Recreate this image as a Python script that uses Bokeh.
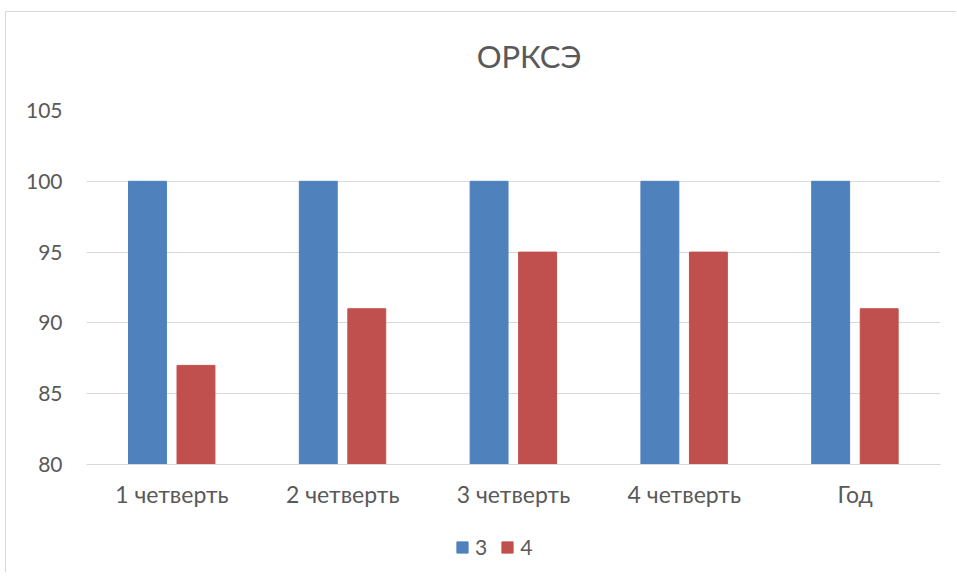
from bokeh.plotting import figure
from bokeh.models import FactorRange, Legend, LegendItem, Label, ColumnDataSource
from bokeh.layouts import column
from bokeh.transform import dodge
from bokeh.embed import file_html
from bokeh.resources import INLINE

categories = ["1 четверть", "2 четверть", "3 четверть", "4 четверть", "Год"]
series_3 = [100, 100, 100, 100, 100]
series_4 = [87, 91, 95, 95, 91]
series_names = ["3", "4"]
series_colors = ["#4F81BD", "#C0504D"]
y_ticks = [80, 85, 90, 95, 100, 105]
title_text = "ОРКСЭ"

FONT = "Lato"
TXT = "#595959"
W = 950

# title strip (pixel-based ranges)
tf = figure(width=W, height=60, x_range=(0, W), y_range=(0, 60), output_backend="svg",
            toolbar_location=None, min_border=0, x_axis_type=None, y_axis_type=None)
tf.outline_line_color = None
tf.grid.visible = False
tf.add_layout(Label(x=434, y=17, text=title_text, text_font=FONT, text_font_size="31px",
                    text_color=TXT, text_baseline="middle", text_align="left"))

src = ColumnDataSource(dict(cat=categories, s3=series_3, s4=series_4))

p = figure(width=W, height=438, x_range=FactorRange(*categories, range_padding=0),
           y_range=(80, 105), output_backend="svg", toolbar_location=None,
           min_border_left=80, min_border_right=16, min_border_bottom=45, min_border_top=38)

p.vbar(x=dodge("cat", -0.143, range=p.x_range), top="s3", bottom=80, width=0.222,
       source=src, color=series_colors[0])
p.vbar(x=dodge("cat", 0.141, range=p.x_range), top="s4", bottom=80, width=0.222,
       source=src, color=series_colors[1])

p.outline_line_color = None
p.xgrid.grid_line_color = None
p.ygrid.grid_line_color = "#D9D9D9"
p.ygrid.grid_line_width = 1
p.yaxis.ticker = y_ticks
p.yaxis.axis_line_color = None
p.yaxis.major_tick_line_color = None
p.yaxis.minor_tick_line_color = None
p.yaxis.major_label_standoff = 18
p.xaxis.axis_line_color = "#D9D9D9"
p.xaxis.major_tick_line_color = None
p.xaxis.minor_tick_line_color = None
p.xaxis.major_label_standoff = 9
p.yaxis.major_label_text_font_size = "21px"
p.xaxis.major_label_text_font_size = "23px"
for ax in (p.xaxis, p.yaxis):
    ax.major_label_text_font = FONT
    ax.major_label_text_color = TXT

# legend strip below the chart
lf = figure(width=W, height=62, x_range=(0, 1), y_range=(0, 1), output_backend="svg",
            toolbar_location=None, min_border=0, x_axis_type=None, y_axis_type=None)
lf.outline_line_color = None
lf.grid.visible = False
offscreen = ColumnDataSource(dict(x=[-5], top=[-5]))
lr = [lf.vbar(x="x", top="top", bottom=-6, width=0.1, source=offscreen, color=c) for c in series_colors]
legend = Legend(items=[LegendItem(label=n, renderers=[r]) for n, r in zip(series_names, lr)],
                orientation="horizontal", location=(369, 13),
                label_text_font=FONT, label_text_font_size="21px", label_text_color=TXT,
                glyph_width=14, glyph_height=14, label_standoff=6, spacing=13, label_width=10,
                border_line_color=None, background_fill_alpha=0, padding=0, margin=0)
lf.add_layout(legend, "center")

layout = column(tf, p, lf, spacing=0,
                styles={"margin-left": "5px", "margin-top": "11px",
                        "border-left": "1px solid #D9D9D9", "border-top": "1px solid #D9D9D9"})
open("out.html", "w").write(file_html(layout, INLINE))
